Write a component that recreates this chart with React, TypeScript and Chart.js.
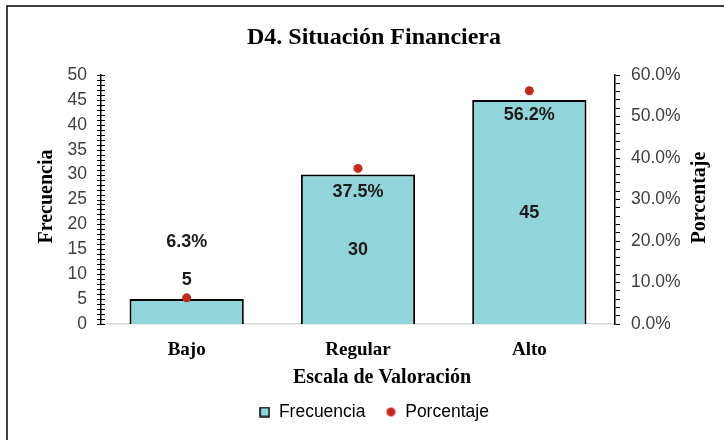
import React, { useEffect, useRef } from "react";
import { Chart, registerables } from "chart.js";

Chart.register(...registerables);

const categories = ["Bajo", "Regular", "Alto"];
const frecuencia = [5, 30, 45];
const porcentaje = [6.3, 37.5, 56.2];
const leftTicks = { min: 0, max: 50, step: 1, labelEvery: 5 };
const rightTicks = { min: 0, max: 60, step: 2, labelEvery: 10 };
const chartTitle = "D4. Situación Financiera";
const xTitle = "Escala de Valoración";
const yTitle = "Frecuencia";
const y1Title = "Porcentaje";

const BAR_FILL = "#91D5DB";
const DOT = "#C5281C";
const SERIF = "'Liberation Serif', 'Times New Roman', serif";
const SANS = "'Liberation Sans', Arial, sans-serif";

function makeMarker(kind: "rect" | "circle"): HTMLCanvasElement {
  const c = document.createElement("canvas");
  c.width = 11;
  c.height = 11;
  const g = c.getContext("2d")!;
  if (kind === "rect") {
    g.fillStyle = BAR_FILL;
    g.fillRect(1, 1, 9, 9);
    g.strokeStyle = "#000";
    g.lineWidth = 1.5;
    g.strokeRect(1, 1, 9, 9);
  } else {
    g.fillStyle = DOT;
    g.beginPath();
    g.arc(5.5, 5.5, 4.5, 0, Math.PI * 2);
    g.fill();
  }
  return c;
}

export default function App() {
  const ref = useRef<HTMLCanvasElement | null>(null);
  useEffect(() => {
    document.documentElement.style.overflow = "hidden";
    document.body.style.overflow = "hidden";
    document.body.style.margin = "0";
    const canvas = ref.current!;
    const markers = [makeMarker("rect"), makeMarker("circle")];

    const framePlugin = {
      id: "frame",
      beforeDraw(chart: any) {
        const ctx = chart.ctx;
        ctx.save();
        ctx.fillStyle = "#fff";
        ctx.fillRect(0, 0, 748, 440);
        ctx.strokeStyle = "#000";
        ctx.lineWidth = 1.5;
        ctx.beginPath();
        ctx.moveTo(7, 445);
        ctx.lineTo(7, 6);
        ctx.lineTo(760, 6);
        ctx.stroke();
        ctx.restore();
      },
    };

    const extrasPlugin = {
      id: "extras",
      afterDraw(chart: any) {
        const ctx = chart.ctx;
        const ca = chart.chartArea;
        ctx.save();
        const ys = chart.scales.y;
        ctx.strokeStyle = "#000";
        ctx.lineWidth = 1;
        ys.ticks.forEach((t: any) => {
          const py = Math.round(ys.getPixelForValue(t.value)) + 0.5;
          ctx.beginPath();
          ctx.moveTo(ca.left - 4, py);
          ctx.lineTo(ca.left + 4, py);
          ctx.stroke();
        });
        ctx.fillStyle = "#000";
        ctx.font = `bold 20px ${SERIF}`;
        ctx.textAlign = "center";
        ctx.textBaseline = "middle";
        const cy = (ca.top + ca.bottom) / 2;
        ctx.save();
        ctx.translate(47, cy - 3);
        ctx.rotate(-Math.PI / 2);
        ctx.fillText(yTitle, 0, 0);
        ctx.restore();
        ctx.save();
        ctx.translate(700, cy - 2);
        ctx.rotate(-Math.PI / 2);
        ctx.fillText(y1Title, 0, 0);
        ctx.restore();
        ctx.fillText(xTitle, (ca.left + ca.right) / 2 + 24, 378);

        const barMeta = chart.getDatasetMeta(0);
        const dotMeta = chart.getDatasetMeta(1);
        ctx.font = `bold 18px ${SANS}`;
        ctx.fillStyle = "#1a1a1a";
        barMeta.data.forEach((bar: any, i: number) => {
          const h = bar.base - bar.y;
          const small = h < 40;
          const ly = small ? bar.y - 19 : (bar.y + bar.base) / 2 + 1;
          ctx.fillText(String(frecuencia[i]), bar.x, ly);
          const pt = dotMeta.data[i];
          const py = small ? pt.y - 56 : pt.y + 24;
          ctx.fillText(porcentaje[i].toFixed(1) + "%", pt.x, py);
        });
        ctx.restore();
      },
    };

    const chart = new Chart(canvas, {
      type: "bar",
      data: {
        labels: categories,
        datasets: [
          {
            type: "bar",
            label: "Frecuencia",
            data: frecuencia,
            backgroundColor: BAR_FILL,
            borderColor: "#000",
            borderWidth: 2,
            categoryPercentage: 1,
            barPercentage: 0.667,
            yAxisID: "y",
            order: 2,
          },
          {
            type: "line",
            label: "Porcentaje",
            data: porcentaje,
            showLine: false,
            pointRadius: 4.5,
            pointBackgroundColor: DOT,
            pointBorderColor: DOT,
            pointBorderWidth: 0,
            backgroundColor: DOT,
            borderColor: DOT,
            yAxisID: "y1",
            order: 1,
          },
        ],
      },
      options: {
        responsive: false,
        animation: false,
        devicePixelRatio: 1,
        layout: { padding: { left: 0, right: 0, top: 0, bottom: 9.25 } },
        plugins: {
          tooltip: { enabled: false },
          title: {
            display: true,
            text: chartTitle,
            color: "#000",
            font: { family: SERIF, size: 24, weight: "bold", lineHeight: 1.2 },
            padding: { top: 23.6, bottom: 22.6 },
          },
          legend: {
            position: "bottom",
            labels: {
              usePointStyle: true,
              boxWidth: 11,
              boxHeight: 11,
              padding: 20,
              color: "#000",
              font: { family: SANS, size: 17.5 },
              generateLabels: () =>
                ["Frecuencia", "Porcentaje"].map((t, i) => ({
                  text: t,
                  pointStyle: markers[i],
                  fillStyle: i === 0 ? BAR_FILL : DOT,
                  strokeStyle: i === 0 ? "#000" : DOT,
                  lineWidth: 0,
                  hidden: false,
                  datasetIndex: i,
                  fontColor: "#000",
                })),
            },
          },
        },
        scales: {
          x: {
            grid: { display: false, drawTicks: false },
            border: { display: true, color: "#D9D9D9", width: 1.5 },
            ticks: {
              color: "#000",
              padding: 14.6,
              font: { family: SERIF, size: 19, weight: "bold" },
            },
            afterFit(s: any) {
              s.height = 59.25;
            },
          },
          y: {
            position: "left",
            min: leftTicks.min,
            max: leftTicks.max,
            grid: { display: false, drawTicks: false },
            border: { display: true, color: "#000", width: 1.5 },
            ticks: {
              stepSize: leftTicks.step,
              autoSkip: false,
              padding: 14,
              color: "#404040",
              font: { family: SANS, size: 17.5 },
              callback: (v: any) => (Number(v) % leftTicks.labelEvery === 0 ? String(v) : ""),
            },
            afterFit(s: any) {
              s.width = 101;
            },
          },
          y1: {
            position: "right",
            min: rightTicks.min,
            max: rightTicks.max,
            grid: {
              display: true,
              drawOnChartArea: false,
              drawTicks: true,
              tickLength: 5,
              color: "#000",
              lineWidth: 1,
            },
            border: { display: true, color: "#000", width: 1.5 },
            ticks: {
              stepSize: rightTicks.step,
              autoSkip: false,
              padding: 11,
              color: "#404040",
              font: { family: SANS, size: 17.5 },
              callback: (v: any) =>
                Number(v) % rightTicks.labelEvery === 0 ? Number(v).toFixed(1) + "%" : "",
            },
            afterFit(s: any) {
              s.width = 133;
            },
          },
        },
      },
      plugins: [framePlugin, extrasPlugin],
    } as any);
    return () => chart.destroy();
  }, []);

  return (
    <div
      style={{
        position: "fixed",
        left: 0,
        top: 0,
        width: 724,
        height: 440,
        overflow: "hidden",
        background: "#fff",
      }}
    >
      <canvas ref={ref} width={748} height={440} style={{ display: "block", width: 748, height: 440 }} />
    </div>
  );
}
